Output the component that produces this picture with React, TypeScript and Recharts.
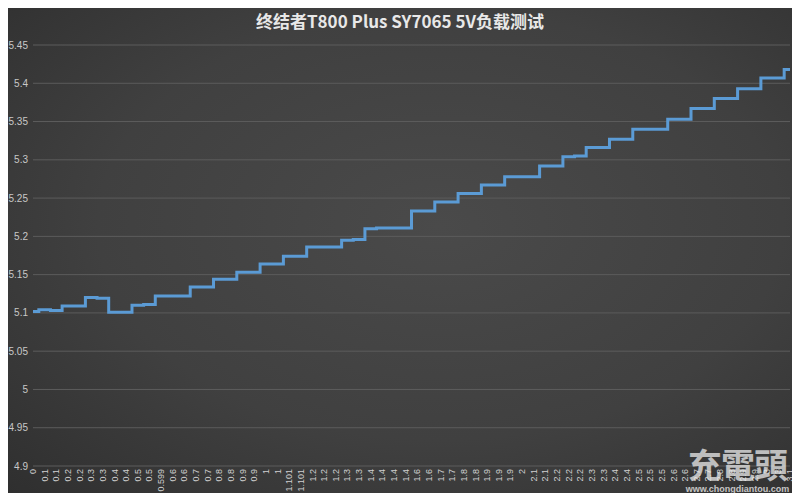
import { LineChart, Line, XAxis, YAxis, CartesianGrid } from 'recharts';

// Load current (A) shown on the category axis, one label per sample
const loadLabels: string[] = [
  '0', '0.1', '0.1', '0.2', '0.2', '0.3', '0.3', '0.4', '0.4', '0.5', '0.5',
  '0.599', '0.6', '0.6', '0.7', '0.7', '0.8', '0.8', '0.9', '0.9', '1', '1',
  '1.101', '1.101', '1.2', '1.2', '1.2', '1.3', '1.3', '1.4', '1.4', '1.4', '1.4',
  '1.6', '1.6', '1.7', '1.7', '1.8', '1.8', '1.9', '1.9', '1.9',
  '2', '2.1', '2.1', '2.2', '2.2', '2.2', '2.3', '2.3', '2.4', '2.4',
  '2.5', '2.5', '2.5', '2.6', '2.6', '2.7', '2.7', '2.8', '2.8', '2.9', '2.9',
  '3', '3', '3.1',
];

// Output voltage (V)
const voltage: number[] = [
  5.102, 5.104, 5.103, 5.109, 5.109, 5.12, 5.119, 5.101, 5.101, 5.11, 5.111,
  5.122, 5.122, 5.122, 5.134, 5.134, 5.144, 5.144, 5.153, 5.153, 5.164, 5.164,
  5.174, 5.174, 5.186, 5.186, 5.186, 5.195, 5.196, 5.21, 5.211, 5.211, 5.211,
  5.233, 5.233, 5.245, 5.245, 5.256, 5.256, 5.267, 5.267, 5.278,
  5.278, 5.278, 5.292, 5.292, 5.304, 5.305, 5.316, 5.316, 5.327, 5.327,
  5.34, 5.34, 5.34, 5.353, 5.353, 5.367, 5.367, 5.38, 5.38, 5.393, 5.393,
  5.407, 5.407, 5.418,
];

const yTicks: number[] = [4.9, 4.95, 5, 5.05, 5.1, 5.15, 5.2, 5.25, 5.3, 5.35, 5.4, 5.45];

const title = '终结者T800 Plus SY7065 5V负载测试';

const data = loadLabels.map((load, i) => ({ load, v: voltage[i] }));

const LoadTick = (props: any) => {
  const { x, y, payload } = props;
  return (
    <g transform={`translate(${x},${y})`}>
      <text
        x={5}
        y={0}
        dy={3}
        textAnchor="end"
        transform="rotate(-90)"
        fill="#d0d0d0"
        fontSize={9}
        fontFamily="Liberation Sans, Arial, sans-serif"
      >
        {payload.value}
      </text>
    </g>
  );
};

export default function App() {
  return (
    <div
      style={{
        position: 'relative',
        margin: -8,
        width: 800,
        height: 501,
        background: 'radial-gradient(ellipse at 55% 45%, #4a4a4a 0%, #404040 55%, #2e2e2e 100%)',
        overflow: 'hidden',
      }}
    >
      <div
        style={{
          position: 'absolute',
          top: 8,
          left: 0,
          width: 800,
          textAlign: 'center',
          color: '#e8e8e8',
          fontSize: 17,
          fontWeight: 'bold',
          fontFamily: '"Noto Sans CJK SC", "Noto Sans", sans-serif',
        }}
      >
        {title}
      </div>
      <LineChart width={800} height={501} data={data} margin={{ top: 45, right: 10, left: 0, bottom: 0 }}>
        <CartesianGrid vertical={false} stroke="#5c5c5c" />
        <XAxis dataKey="load" interval={0} height={35} axisLine={false} tickLine={false} tick={<LoadTick />} />
        <YAxis
          domain={[4.9, 5.45]}
          ticks={yTicks}
          width={33}
          axisLine={false}
          tickLine={false}
          tickSize={3}
          tickMargin={2}
          tick={{ fill: '#c8c8c8', fontSize: 10, fontFamily: 'Liberation Sans, Arial, sans-serif' }}
        />
        <Line type="step" dataKey="v" stroke="#5b9bd5" strokeWidth={3} dot={false} isAnimationActive={false} />
      </LineChart>
      <div
        style={{
          position: 'absolute',
          left: 680,
          top: 444,
          width: 115,
          textAlign: 'center',
          color: 'rgba(235,235,235,0.75)',
          fontFamily: '"Noto Sans CJK TC", sans-serif',
          fontWeight: 'bold',
          fontSize: 34,
          lineHeight: '40px',
          letterSpacing: -1,
        }}
      >
        充電頭
      </div>
      <div
        style={{
          position: 'absolute',
          left: 680,
          top: 484,
          width: 115,
          textAlign: 'center',
          color: 'rgba(235,235,235,0.8)',
          fontFamily: 'Liberation Sans, Arial, sans-serif',
          fontWeight: 'bold',
          fontSize: 9,
        }}
      >
        www.chongdiantou.com
      </div>
    </div>
  );
}
